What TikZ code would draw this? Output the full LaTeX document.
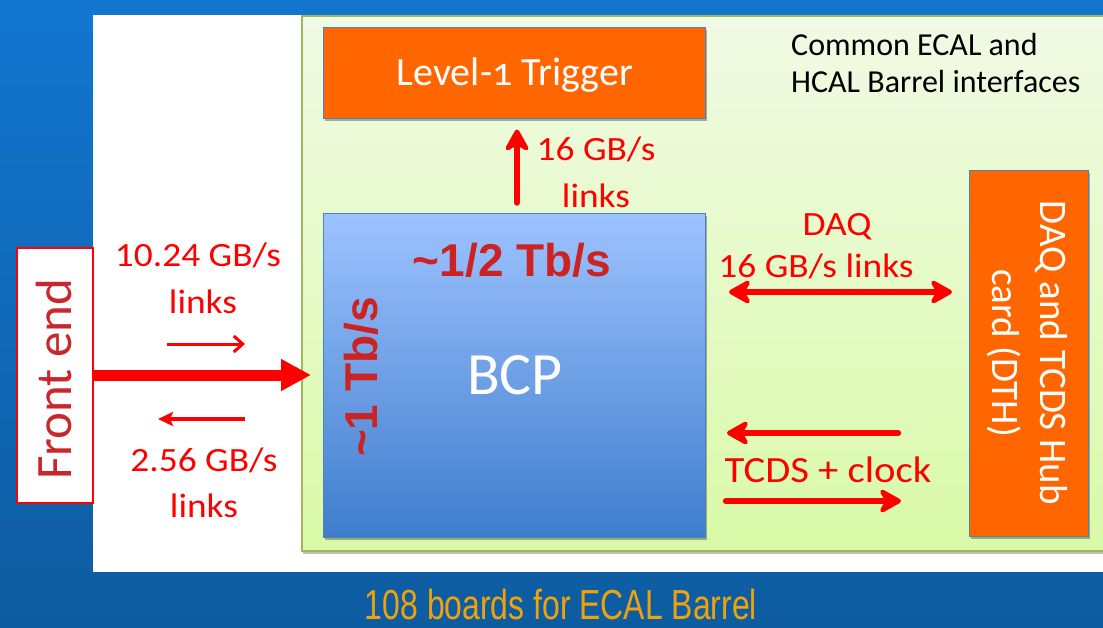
\documentclass[tikz,border=0pt]{standalone}
\usepackage{fontspec}
\setmainfont{Carlito}
\newfontfamily\boxfont{Carlito}
\newfontfamily\linkfont[FakeStretch=1.1]{Carlito}
\newfontfamily\ratefont{Liberation Sans}
\newfontfamily\captionfont[FakeStretch=0.76]{Liberation Sans}
\usetikzlibrary{arrows.meta,shadows}

\definecolor{bgtop}{RGB}{18,118,208}
\definecolor{bgbot}{RGB}{14,92,160}
\definecolor{paneltop}{RGB}{241,250,229}
\definecolor{panelbot}{RGB}{217,250,168}
\definecolor{panelline}{RGB}{155,187,89}
\definecolor{boxorange}{RGB}{255,102,0}
\definecolor{boxline}{RGB}{79,129,189}
\definecolor{bcptop}{RGB}{157,195,255}
\definecolor{bcpbot}{RGB}{63,125,204}
\definecolor{linkred}{RGB}{255,0,0}
\definecolor{ratered}{RGB}{204,34,34}
\definecolor{frontred}{RGB}{200,40,44}
\definecolor{captionorange}{RGB}{238,163,10}

\newcommand{\approxsign}{{\char`\~}}

\begin{document}
\begin{tikzpicture}[x=1pt,y=-1pt,
  boxshadow/.style={drop shadow={shadow xshift=2pt,shadow yshift=-3pt,opacity=.3,fill=black}},
  orangebox/.style={draw=boxline,line width=1pt,fill=boxorange,inner sep=0pt,boxshadow},
  bcpbox/.style={draw=boxline,line width=1pt,top color=bcptop,bottom color=bcpbot,inner sep=0pt,boxshadow},
  redlabel/.style={text=linkred,anchor=base,inner sep=0pt},
  ratelabel/.style={text=ratered,anchor=base,inner sep=0pt,font=\ratefont\bfseries\fontsize{46}{46}\selectfont},
  whitelabel/.style={text=white,anchor=base,inner sep=0pt},
  fatlink/.style={draw=linkred,line width=6.5pt,line cap=round,
    -{Stealth[length=27pt,width=30pt,inset=9pt,round]}},
  fatlinks/.style={draw=linkred,line width=6pt,line cap=round,
    {Stealth[length=27pt,width=30pt,inset=9pt,round]}-{Stealth[length=27pt,width=30pt,inset=9pt,round]}},
]
\useasboundingbox (0,0) rectangle (1103,627);

% slide background, white sheet and green interface panel
\fill[top color=bgtop,bottom color=bgbot] (0,0) rectangle (1103,627);
\fill[white] (93,15) rectangle (1103,572);
\path[top color=paneltop,bottom color=panelbot,draw=panelline,line width=1.5pt,
  drop shadow={shadow xshift=1pt,shadow yshift=-3pt,opacity=.25,fill=black}]
  (302,16) rectangle (1112,551);

% boxes
\node[orangebox,minimum width=382pt,minimum height=91pt] (l1) at (514,72.5) {};
\node[bcpbox,minimum width=382pt,minimum height=324pt] (bcp) at (514,375) {};
\node[orangebox,minimum width=119pt,minimum height=366pt] (dth) at (1028.5,353) {};
\node[draw=linkred,fill=white,line width=2pt,inner sep=0pt,
  minimum width=76pt,minimum height=255pt] (fe) at (55,375) {};

% box texts
\node[whitelabel,font=\boxfont\fontsize{40}{40}\selectfont] (l1txt) at (515,85)
  {Level-{\addfontfeature{Numbers=OldStyle}1} Trigger};
\node[whitelabel,font=\boxfont\fontsize{60}{60}\selectfont] (bcptxt) at (515,394) {BCP};
\node[text=white,rotate=-90,align=center,inner sep=0pt,
  font=\boxfont\fontsize{39}{48}\selectfont] (dthtxt) at (1027,353)
  {DAQ and TCDS Hub\\card (DTH)};
\node[text=frontred,rotate=90,anchor=base,inner sep=0pt,
  font=\boxfont\fontsize{51}{51}\selectfont] (fetxt) at (71,379) {Front end};

\node[anchor=base west,inner sep=0pt,text=black,
  font=\boxfont\fontsize{32}{37}\selectfont] (common) at (791,55) {Common ECAL and};
\node[anchor=base west,inner sep=0pt,text=black,
  font=\boxfont\fontsize{32}{37}\selectfont] (common2) at (791,92) {HCAL Barrel interfaces};

% data rates inside the BCP
\node[ratelabel] (halfrate) at (512,276) {\approxsign1/2 Tb/s};
\node[ratelabel,rotate=90] (fullrate) at (377,377) {\approxsign1 Tb/s};

% front-end links
\coordinate (feTip) at (311,375);
\draw[linkred,line width=11pt,-{Triangle[length=30pt,width=30pt]}] (fe.east) -- (feTip);
\coordinate (upA) at (167,344);
\coordinate (upB) at (245,344);
\draw[linkred,line width=3pt,-{Straight Barb[length=9pt,width=16pt,line width=3pt]}] (upA) -- (upB);
\coordinate (dnA) at (245,419);
\coordinate (dnB) at (158,419);
\draw[linkred,line width=3.5pt,-{Stealth[length=15pt,width=14pt,inset=3pt]}] (dnA) -- (dnB);

\node[redlabel,font=\linkfont\fontsize{34}{34}\selectfont] (upRate) at (198,266) {10.24 GB/s};
\node[redlabel,font=\linkfont\fontsize{34}{34}\selectfont] (upLinks) at (203,313) {links};
\node[redlabel,font=\linkfont\fontsize{34}{34}\selectfont] (dnRate) at (204,471) {2.56 GB/s};
\node[redlabel,font=\linkfont\fontsize{34}{34}\selectfont] (dnLinks) at (204,517) {links};

% trigger link
\draw[fatlink] ([xshift=3pt,yshift=10pt]bcp.north) -- ([xshift=3pt,yshift=-11pt]l1.south);
\node[redlabel,font=\linkfont\fontsize{34}{34}\selectfont] (trgRate) at (596,160) {16 GB/s};
\node[redlabel,font=\linkfont\fontsize{34}{34}\selectfont] (trgLinks) at (596,207) {links};

% DAQ link
\coordinate (daqL) at (729,292);
\coordinate (daqR) at (952,292);
\draw[fatlinks] (daqL) -- (daqR);
\node[redlabel,font=\linkfont\fontsize{34}{34}\selectfont] (daqTitle) at (837,235) {DAQ};
\node[redlabel,font=\linkfont\fontsize{34}{34}\selectfont] (daqRate) at (816,277) {16 GB/s links};

% TCDS and clock links
\coordinate (tcdsInA) at (898,433);
\coordinate (tcdsInB) at (727,433);
\draw[fatlink] (tcdsInA) -- (tcdsInB);
\coordinate (tcdsOutA) at (726,501);
\coordinate (tcdsOutB) at (901,501);
\draw[fatlink] (tcdsOutA) -- (tcdsOutB);
\node[redlabel,font=\linkfont\fontsize{37}{37}\selectfont] (tcdsTxt) at (828,482) {TCDS + clock};

% caption
\node[anchor=base,inner sep=0pt,text=captionorange,
  font=\captionfont\fontsize{42}{42}\selectfont] (caption) at (561,619) {108 boards for ECAL Barrel};
\end{tikzpicture}
\end{document}
